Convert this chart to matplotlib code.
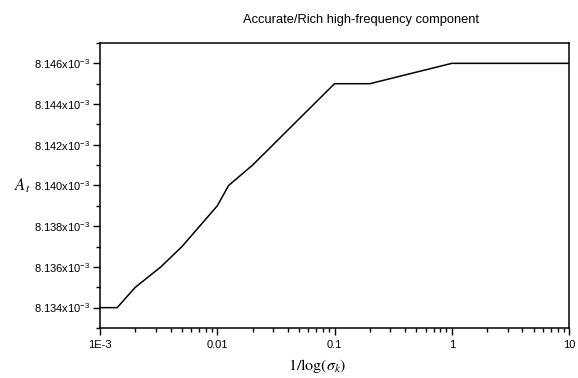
import matplotlib
matplotlib.use("Agg")
import matplotlib.pyplot as plt
from matplotlib.ticker import FixedLocator, FuncFormatter, LogLocator, NullFormatter

# Data (A_t values in units of 1e-3)
x_vals = [0.001, 0.0014, 0.002, 0.0033, 0.005, 0.01, 0.0125, 0.02, 0.1, 0.2, 1.0, 10.0]
a_vals = [8.134, 8.134, 8.135, 8.136, 8.137, 8.139, 8.140, 8.141, 8.145, 8.145, 8.146, 8.146]
x_tick_vals = [0.001, 0.01, 0.1, 1, 10]
x_tick_labels = ["1E-3", "0.01", "0.1", "1", "10"]
y_major_vals = [8.134, 8.136, 8.138, 8.140, 8.142, 8.144, 8.146]
y_minor_vals = [8.133, 8.135, 8.137, 8.139, 8.141, 8.143, 8.145, 8.147]

plt.rcParams['font.family'] = ['Liberation Sans', 'DejaVu Sans']
plt.rcParams['mathtext.fontset'] = 'stix'

fig = plt.figure(figsize=(5.78, 3.78), dpi=100)
ax = fig.add_axes([100/578, 1-328/378, 469/578, 285/378])

ax.plot(x_vals, [v*1e-3 for v in a_vals], color='black', lw=1.1)
ax.set_xscale('log')
ax.set_xlim(0.001, 10)
ax.set_ylim(8.133e-3, 8.147e-3)

ax.xaxis.set_major_locator(FixedLocator(x_tick_vals))
ax.xaxis.set_major_formatter(FuncFormatter(lambda v, p: x_tick_labels[x_tick_vals.index(min(x_tick_vals, key=lambda t: abs(t-v)))]))
ax.xaxis.set_minor_locator(LogLocator(base=10, subs=range(2, 10), numticks=20))
ax.xaxis.set_minor_formatter(NullFormatter())

ax.yaxis.set_major_locator(FixedLocator([v*1e-3 for v in y_major_vals]))
ax.yaxis.set_minor_locator(FixedLocator([v*1e-3 for v in y_minor_vals]))
ax.yaxis.set_major_formatter(FuncFormatter(lambda v, p: r"%.3fx10$^{\mathregular{-3}}$" % (v*1e3)))

ax.tick_params(axis='both', which='major', direction='out', length=5, width=1, labelsize=8, top=False, right=False)
ax.tick_params(axis='both', which='minor', direction='out', length=3, width=1, top=False, right=False)
ax.tick_params(axis='y', pad=2)
for s in ax.spines.values():
    s.set_linewidth(1.1)

fig.text(361/578, 1-20/378, "Accurate/Rich high-frequency component", ha='center', va='center', fontsize=9.3)
fig.text(22/578, 1-186/378, r"$A_t$", ha='center', va='center', fontsize=12)
fig.text(317/578, 1-366/378, r"$1/\log(\sigma_k)$", ha='center', va='center', fontsize=11.5)

fig.savefig("out.png", dpi=100)
